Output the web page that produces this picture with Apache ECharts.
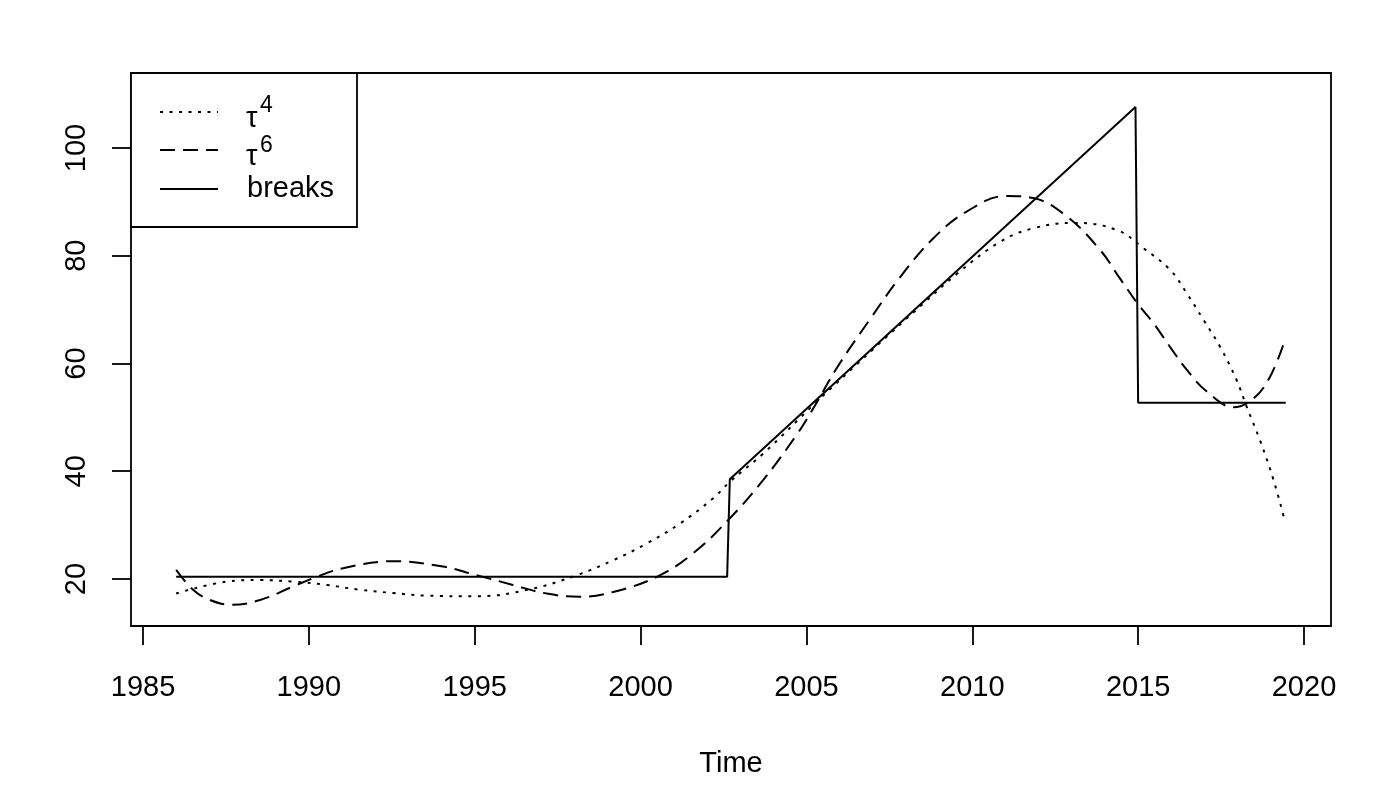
<!DOCTYPE html>
<html>
<head>
<meta charset="utf-8">
<script src="https://cdn.jsdelivr.net/npm/echarts@6/dist/echarts.min.js"></script>
<style>
html,body{margin:0;padding:0;background:#fff;}
#main{width:1380px;height:796px;}
</style>
</head>
<body>
<div id="main"></div>
<script>
// ---- data ----
var xTicks = [1985, 1990, 1995, 2000, 2005, 2010, 2015, 2020];
var yTicks = [20, 40, 60, 80, 100];

var tau4Years = [1986.0, 1987.52, 1988.53, 1989.53, 1990.54, 1991.54, 1992.54, 1993.55, 1995.06, 1996.67,
  1998.07, 1999.18, 2000.19, 2001.19, 2002.19, 2002.70, 2003.70, 2005.21, 2007.0, 2008.5,
  2009.53, 2010.84, 2011.84, 2013.05, 2014.35, 2015.16, 2015.96, 2016.47, 2016.97, 2017.47,
  2017.97, 2018.27, 2018.67, 2019.08, 2019.43];
var tau4Values = [17.3, 19.5, 19.8, 19.5, 18.9, 18.0, 17.4, 16.9, 16.8, 18.1,
  20.7, 23.5, 26.6, 30.3, 35.0, 38.1, 43.3, 52.3, 62.6, 71.0,
  76.6, 82.6, 85.1, 86.1, 84.8, 81.4, 77.4, 73.0, 68.1, 63.1,
  56.9, 52.0, 45.8, 38.4, 30.6];

var tau6Years = [1986.0, 1986.51, 1987.02, 1987.67, 1988.53, 1989.52, 1990.24, 1991.03, 1992.54, 1994.04,
  1995.06, 1996.15, 1997.17, 1998.17, 1999.17, 2000.49, 2001.59, 2002.65, 2003.70, 2004.71,
  2005.2, 2005.93, 2006.87, 2007.82, 2008.82, 2009.83, 2011.03, 2011.84, 2012.85, 2013.85,
  2014.45, 2015.01, 2015.46, 2015.96, 2016.47, 2017.07, 2017.87, 2018.48, 2018.98, 2019.43];
var tau6Values = [21.7, 18.0, 16.1, 15.2, 16.1, 18.6, 20.4, 22.0, 23.3, 22.3,
  20.7, 18.9, 17.3, 16.7, 17.6, 20.4, 24.8, 31.0, 38.4, 46.8,
  51.6, 59.3, 67.8, 76.0, 83.2, 88.2, 91.1, 90.7, 87.3, 81.1,
  75.8, 70.9, 67.5, 63.1, 58.8, 54.8, 51.9, 53.5, 57.6, 64.4];

var breakYears = [1986.0, 2002.61, 2002.69, 2014.92, 2015.0, 2019.45];
var breakValues = [20.4, 20.4, 38.5, 107.6, 52.7, 52.7];

var legendLabels = ['τ', '4', 'τ', '6', 'breaks'];
var xTitle = 'Time';

function pairs(xs, ys) { return xs.map(function (x, i) { return [x, ys[i]]; }); }

var FONT = 'Liberation Sans, Arial, Helvetica, sans-serif';
var chart = echarts.init(document.getElementById('main'), null, { renderer: 'canvas' });

var option = {
  backgroundColor: '#ffffff',
  animation: false,
  grid: {
    left: 131, top: 73, width: 1200, height: 553,
    show: true, borderColor: '#000', borderWidth: 1.8, backgroundColor: 'transparent'
  },
  xAxis: {
    type: 'value',
    min: 1984.638, max: 2020.814,
    name: xTitle,
    nameLocation: 'middle',
    nameGap: 138,
    nameTextStyle: { fontFamily: FONT, fontSize: 29, color: '#000', verticalAlign: 'middle' },
    axisLine: { show: false },
    splitLine: { show: false },
    axisTick: { show: true, length: 19, lineStyle: { color: '#000', width: 1.8 }, customValues: xTicks },
    axisLabel: { show: true, customValues: xTicks, margin: 47, fontFamily: FONT, fontSize: 29, color: '#000',
      formatter: function (v) { return String(v); } }
  },
  yAxis: {
    type: 'value',
    min: 11.276, max: 113.92,
    axisLine: { show: false },
    splitLine: { show: false },
    axisTick: { show: true, length: 19, lineStyle: { color: '#000', width: 1.8 }, customValues: yTicks },
    axisLabel: { show: true, customValues: yTicks, rotate: 90, margin: 40, fontFamily: FONT, fontSize: 29, color: '#000',
      formatter: function (v) { return String(v); } }
  },
  series: [
    {
      name: 'tau4', type: 'line', data: pairs(tau4Years, tau4Values),
      showSymbol: false, smooth: 0.4, silent: true,
      lineStyle: { color: '#000', width: 2, type: [3, 6.5], cap: 'butt' }
    },
    {
      name: 'tau6', type: 'line', data: pairs(tau6Years, tau6Values),
      showSymbol: false, smooth: 0.4, silent: true,
      lineStyle: { color: '#000', width: 2, type: [15, 8], cap: 'butt' }
    },
    {
      name: 'breaks', type: 'line', data: pairs(breakYears, breakValues),
      showSymbol: false, smooth: false, silent: true,
      lineStyle: { color: '#000', width: 2, type: 'solid' }
    }
  ],
  graphic: [
    { type: 'rect', z: 100, shape: { x: 131, y: 73, width: 226, height: 154 },
      style: { fill: '#fff', stroke: '#000', lineWidth: 1.8 } },
    { type: 'line', z: 101, shape: { x1: 160, y1: 112, x2: 218, y2: 112 },
      style: { stroke: '#000', lineWidth: 2, lineDash: [3, 6.5] } },
    { type: 'line', z: 101, shape: { x1: 160, y1: 150, x2: 218, y2: 150 },
      style: { stroke: '#000', lineWidth: 2, lineDash: [15, 8] } },
    { type: 'line', z: 101, shape: { x1: 160, y1: 189, x2: 218, y2: 189 },
      style: { stroke: '#000', lineWidth: 2 } },
    { type: 'text', z: 101, x: 246, y: 119,
      style: { text: legendLabels[0], font: '29px ' + FONT, fill: '#000', textVerticalAlign: 'middle', verticalAlign: 'middle' } },
    { type: 'text', z: 101, x: 260, y: 106,
      style: { text: legendLabels[1], font: '23px ' + FONT, fill: '#000', textVerticalAlign: 'middle', verticalAlign: 'middle' } },
    { type: 'text', z: 101, x: 246, y: 157,
      style: { text: legendLabels[2], font: '29px ' + FONT, fill: '#000', textVerticalAlign: 'middle', verticalAlign: 'middle' } },
    { type: 'text', z: 101, x: 260, y: 146,
      style: { text: legendLabels[3], font: '23px ' + FONT, fill: '#000', textVerticalAlign: 'middle', verticalAlign: 'middle' } },
    { type: 'text', z: 101, x: 247, y: 189,
      style: { text: legendLabels[4], font: '29px ' + FONT, fill: '#000', textVerticalAlign: 'middle', verticalAlign: 'middle' } }
  ]
};
chart.setOption(option);
</script>
</body>
</html>
